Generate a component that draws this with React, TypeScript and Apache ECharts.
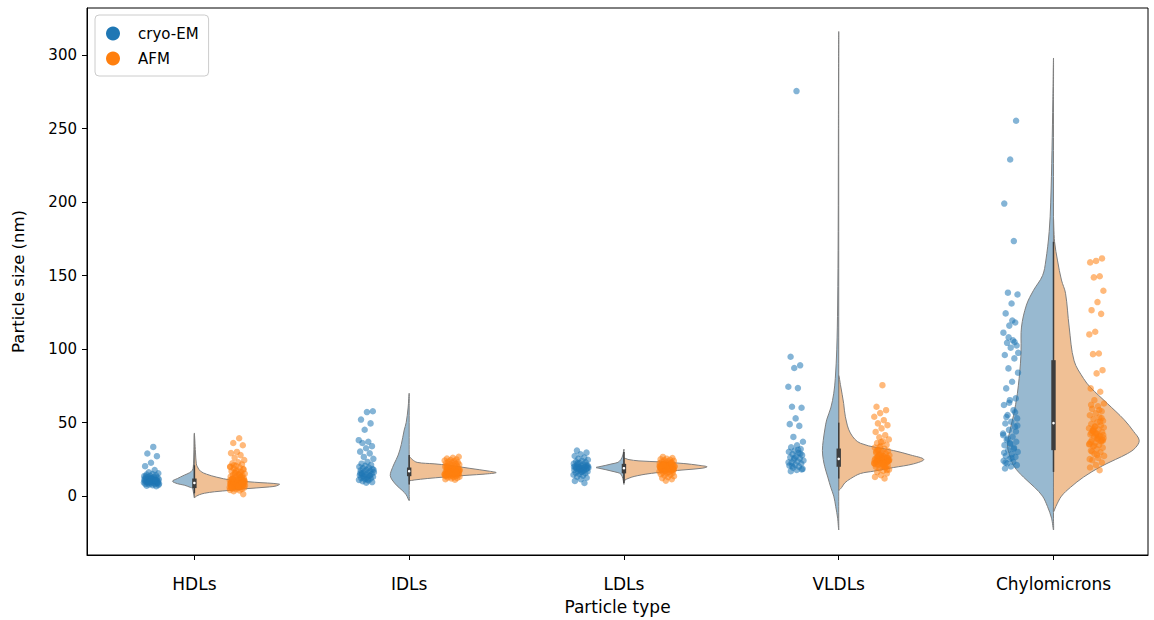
import React, { useEffect, useRef } from "react";
import * as echarts from "echarts";

const CATEGORIES = ["HDLs", "IDLs", "LDLs", "VLDLs", "Chylomicrons"];
const Y_TICKS = [0, 50, 100, 150, 200, 250, 300];
const X_TICKS = [0, 1, 2, 3, 4];

// Strip points (particle size, nm)
const HDL_CRYO = [33.5, 29, 27.2, 22.7, 20.4, 17.7, 16.3, 15.6, 15.1, 14.7, 14.2, 13.9, 13.6, 13.1, 12.9, 12.6, 12.4, 12.1, 11.9, 11.7, 11.5, 11.2, 11.0, 10.9, 10.7, 10.5, 10.4, 10.2, 10.1, 9.9, 9.8, 9.6, 9.5, 9.3, 9.1, 8.9, 8.8, 8.6, 8.4, 8.2, 8.0, 7.7, 7.5, 7.1, 6.8, 12.3, 11.4, 10.8, 10.0, 9.2, 11.8, 13.3, 10.6, 9.7, 8.5];
const HDL_AFM = [39.4, 36.2, 34.6, 30.1, 29.3, 27.9, 26.1, 24.5, 23.1, 22.4, 21.6, 20.7, 20.2, 19.4, 18.8, 18.1, 17.5, 16.9, 16.4, 15.8, 15.3, 14.9, 14.4, 14.0, 13.6, 13.3, 12.9, 12.6, 12.2, 11.9, 11.6, 11.3, 11.1, 10.8, 10.6, 10.3, 10.1, 9.9, 9.7, 9.5, 9.4, 9.2, 9.0, 8.9, 8.7, 8.6, 8.4, 8.3, 8.1, 8.0, 7.9, 7.7, 7.6, 7.5, 7.3, 7.2, 7.0, 6.9, 6.7, 6.5, 6.3, 6.1, 5.8, 5.6, 5.3, 5.0, 4.7, 4.3, 3.9, 3.4, 1.4, 8.5, 9.1, 7.8, 8.8, 10.4, 6.6, 11.7, 9.6, 7.4, 8.2, 12.4, 6.8, 10.9, 9.3, 7.1, 13.1, 8.0, 5.9, 14.6, 9.8, 7.6, 11.0, 6.2, 8.6, 16.1, 10.0, 7.0, 12.0, 9.0, 17.2, 19.8, 15.0, 21.0, 18.4];
const IDL_CRYO = [57.8, 57.2, 52.1, 49.5, 45.2, 38.1, 37.0, 36.2, 34.0, 32.6, 30.3, 29.1, 26.7, 25.4, 23.3, 22.1, 21.3, 20.6, 20.0, 19.4, 18.9, 18.5, 18.0, 17.6, 17.1, 16.7, 16.3, 15.9, 15.5, 15.1, 14.7, 14.3, 14.0, 13.6, 13.2, 12.8, 12.4, 12.0, 11.6, 11.1, 10.7, 10.2, 9.6, 9.1, 15.7, 13.9, 12.6, 17.9, 11.4, 14.9];
const IDL_AFM = [26.8, 26.1, 25.6, 25.0, 24.6, 24.2, 23.8, 23.5, 23.1, 22.8, 22.4, 22.1, 21.8, 21.5, 21.2, 20.9, 20.6, 20.3, 20.0, 19.7, 19.4, 19.1, 18.8, 18.6, 18.3, 18.0, 17.8, 17.5, 17.3, 17.0, 16.8, 16.6, 16.4, 16.2, 16.0, 15.8, 15.6, 15.4, 15.2, 15.0, 14.8, 14.6, 14.4, 14.2, 14.0, 13.8, 13.5, 13.3, 13.0, 12.7, 12.4, 12.0, 11.6, 11.2, 16.1, 16.5, 15.9, 17.1, 15.3, 16.9, 14.9, 17.6, 15.7, 16.3, 18.2, 14.5, 16.7, 15.1, 17.4, 16.0, 19.2, 15.5, 16.4, 13.7, 18.5, 15.8, 17.9, 14.1, 20.4, 16.2];
const LDL_CRYO = [31.0, 29.6, 28.5, 27.3, 26.2, 25.4, 24.7, 24.1, 23.6, 23.0, 22.6, 22.1, 21.7, 21.3, 20.9, 20.6, 20.2, 19.9, 19.6, 19.3, 19.0, 18.7, 18.4, 18.1, 17.8, 17.5, 17.2, 16.8, 16.4, 16.0, 15.6, 15.1, 14.6, 14.0, 13.3, 12.5, 11.6, 10.4, 9.0, 19.8, 20.4, 18.9, 19.4, 21.0, 18.2, 20.0, 17.6, 22.3, 19.1, 16.6];
const LDL_AFM = [26.7, 26.0, 25.5, 25.1, 24.7, 24.4, 24.0, 23.7, 23.4, 23.1, 22.8, 22.5, 22.2, 21.9, 21.6, 21.3, 21.0, 20.8, 20.5, 20.2, 20.0, 19.8, 19.5, 19.3, 19.0, 18.8, 18.5, 18.3, 18.0, 17.7, 17.4, 17.1, 16.8, 16.5, 16.2, 15.8, 15.4, 15.0, 14.6, 14.1, 13.6, 13.0, 12.3, 11.5, 10.6, 20.1, 19.6, 21.2, 18.6, 20.7, 19.1, 22.0, 18.1, 20.4, 19.4, 21.5, 17.6, 20.9, 19.9, 18.9, 21.8, 17.9, 20.3, 19.2, 22.6, 16.9, 20.6, 18.4, 21.1, 19.7];
const VLDL_CRYO = [275.5, 94.8, 89.0, 87.2, 74.4, 73.5, 60.8, 60.1, 52.9, 49.0, 47.8, 40.3, 37.0, 34.6, 33.2, 32.1, 31.0, 30.2, 29.4, 28.6, 27.9, 27.1, 26.4, 25.7, 25.0, 24.3, 23.6, 22.9, 22.2, 21.5, 20.8, 20.1, 19.4, 18.6, 17.8, 17.0, 29.0, 26.0, 23.0, 31.5, 20.5, 18.2];
const VLDL_AFM = [75.5, 60.8, 58.5, 56.5, 54.0, 51.7, 49.5, 48.3, 46.1, 43.7, 41.5, 40.0, 38.6, 37.3, 36.1, 35.0, 34.0, 33.1, 32.3, 31.5, 30.8, 30.1, 29.5, 28.9, 28.3, 27.8, 27.3, 26.8, 26.3, 25.9, 25.5, 25.1, 24.7, 24.3, 23.9, 23.5, 23.1, 22.7, 22.3, 21.9, 21.5, 21.0, 20.5, 20.0, 19.4, 18.8, 18.1, 17.3, 16.4, 15.4, 14.3, 13.1, 12.0, 25.3, 24.1, 26.0, 23.3, 25.7, 24.5, 22.5, 27.0, 24.9, 23.7, 26.5, 21.7, 25.0, 28.0, 24.0, 22.9, 26.2, 23.0, 29.2, 24.4, 20.8, 27.5, 25.8, 22.0, 30.5, 19.8, 33.5, 24.8, 21.3, 31.2, 17.8, 36.8];
const CHYLO_CRYO = [255.3, 229.0, 199.0, 173.5, 138.4, 137.2, 131.0, 124.3, 118.1, 116.0, 111.2, 106.0, 104.3, 102.5, 101.0, 96.0, 93.7, 86.9, 84.0, 77.8, 73.3, 66.5, 65.3, 62.0, 58.5, 55.2, 52.9, 50.6, 49.4, 47.3, 45.1, 42.6, 40.4, 38.2, 37.0, 35.5, 34.7, 33.0, 31.3, 30.1, 28.6, 27.4, 26.7, 25.3, 24.1, 23.3, 22.2, 21.1, 20.2, 18.8, 104.8, 108.0, 97.5, 119.5, 53.8, 44.0, 36.2, 29.5, 32.2, 39.1, 48.0, 26.0, 22.8, 57.0, 63.5, 41.5];
const CHYLO_AFM = [161.7, 160.0, 159.0, 149.6, 148.8, 139.7, 132.0, 126.5, 124.0, 111.8, 110.0, 97.0, 96.6, 85.7, 83.5, 73.3, 71.0, 65.3, 63.0, 61.2, 59.4, 57.8, 56.3, 55.0, 53.7, 52.5, 51.3, 50.2, 49.1, 48.1, 47.1, 46.2, 45.3, 44.4, 43.6, 42.8, 42.0, 41.2, 40.4, 39.6, 38.8, 38.0, 37.2, 36.4, 35.6, 34.8, 33.9, 33.0, 32.0, 31.0, 29.9, 28.7, 27.4, 26.0, 24.5, 22.9, 21.2, 19.5, 17.7, 45.8, 41.6, 39.2, 43.0, 37.6, 47.6, 35.2, 40.8, 44.8, 38.4, 42.4, 36.8, 50.7, 34.3, 46.7, 39.9, 30.4, 53.1, 41.9, 25.2, 58.6, 44.1, 37.9, 28.1, 62.1];

const CRYO_POINTS = [HDL_CRYO, IDL_CRYO, LDL_CRYO, VLDL_CRYO, CHYLO_CRYO];
const AFM_POINTS = [HDL_AFM, IDL_AFM, LDL_AFM, VLDL_AFM, CHYLO_AFM];

// Violin half profiles: [particle size, density width in % of category spacing]
const HDL_CRYO_KDE = [[43, 0], [30, 0.2], [22, 0.4], [20, 0.5], [17.7, 0.9], [16, 2.2], [14.3, 4.7], [12, 7.9], [10.2, 10.2], [8.5, 7.9], [7.5, 4.7], [6, 1.9], [5.4, 0.9], [3, 0.5], [0, 0.1], [-1, 0]];
const HDL_AFM_KDE = [[42, 0], [30, 0.5], [22, 0.9], [20, 1.4], [17, 2.8], [15, 5.6], [13, 10.2], [11, 16.8], [9.5, 27.9], [8.2, 39.6], [7, 38.2], [6.3, 34.9], [5, 23.3], [4, 16.8], [3, 9.3], [2, 4.7], [1, 2.3], [0, 0.9], [-1, 0]];
const IDL_CRYO_KDE = [[70, 0], [60, 0.5], [50, 1.4], [45, 2.3], [35, 3.7], [28, 5.1], [22, 7], [17, 8.4], [14, 8.8], [11, 7.9], [7, 5.6], [4, 3.3], [1, 1.4], [-3, 0]];
const IDL_AFM_KDE = [[27, 0], [25, 1.4], [23, 3.7], [22, 11.6], [21, 18.6], [19, 27.9], [17, 37.3], [16, 40.5], [15, 34.9], [14.3, 27.9], [13, 16.3], [12, 8.4], [11, 2.3], [10.5, 0]];
const LDL_CRYO_KDE = [[32, 0], [28, 0.5], [25, 1.4], [23, 2.8], [22, 5.6], [21, 8.4], [20, 11.6], [19.5, 13], [19, 11.6], [18, 8.4], [17, 5.6], [16, 2.8], [15, 1.4], [12, 0.5], [8, 0]];
const LDL_AFM_KDE = [[26, 0], [25, 1.9], [24, 7], [23.3, 17.2], [22.2, 27.9], [21, 34.9], [20, 38.7], [19, 36.3], [18, 28.9], [17, 21], [16, 15.4], [15, 10.2], [14, 6.5], [13, 3.7], [12, 1.9], [11, 0.5], [10, 0]];
const VLDL_CRYO_KDE = [[316, 0], [250, 0.15], [180, 0.25], [130, 0.5], [100, 0.9], [80, 1.6], [70, 2.3], [60, 3.7], [52, 5.6], [45, 6.5], [38, 7.2], [31, 7.6], [25, 7.2], [20, 6.5], [13, 5.1], [6, 3.7], [0, 2.3], [-7, 1.4], [-15, 0.5], [-23, 0]];
const VLDL_AFM_KDE = [[82, 0], [75, 0.9], [63, 2.3], [54, 3.1], [43, 5.4], [36, 10.1], [31, 25.6], [28, 33.5], [25, 39.6], [22, 34.9], [19.5, 25.6], [17, 16.3], [15.4, 10.1], [12, 5.6], [9, 2.8], [6, 1.4], [4, 0]];
const CHYLO_CRYO_KDE = [[298, 0], [270, 0.3], [235, 0.7], [200, 1.3], [180, 2], [160, 3.6], [150, 5.1], [140, 9.3], [130, 12.6], [115, 14.9], [100, 15.1], [90, 15.4], [70, 16.8], [55, 18.6], [47, 19.9], [35, 21.4], [28, 20.5], [20, 18.2], [13, 14], [6, 8.8], [0, 5.1], [-7, 2.8], [-15, 0.9], [-23, 0]];
const CHYLO_AFM_KDE = [[189, 0], [173, 0.5], [160, 1.9], [147, 3.7], [138, 5.6], [115, 7.3], [92, 9.6], [80, 14], [74, 17.2], [63, 25.1], [52, 32.9], [44, 37.3], [38, 39.9], [33, 38.2], [29, 34.5], [25, 28.9], [20, 21.9], [13, 14], [6, 7.9], [0, 3.7], [-7, 1.1], [-10.7, 0]];

const CRYO_KDE = [HDL_CRYO_KDE, IDL_CRYO_KDE, LDL_CRYO_KDE, VLDL_CRYO_KDE, CHYLO_CRYO_KDE];
const AFM_KDE = [HDL_AFM_KDE, IDL_AFM_KDE, LDL_AFM_KDE, VLDL_AFM_KDE, CHYLO_AFM_KDE];

// Inner box (combined data)
const BOX_Q1 = [5.5, 13.6, 15.5, 20, 31.3];
const BOX_MEDIAN = [9, 17, 19, 25.4, 49.7];
const BOX_Q3 = [12, 19.5, 22, 32.4, 92.5];
const WHISKER_LO = [2, 8, 9, 12, 16.5];
const WHISKER_HI = [21, 28, 30, 50, 173];

const DODGE = 0.2;
const JITTER = 0.036;

function stripData(groups: number[][], side: number) {
  const out: number[][] = [];
  groups.forEach((vals, g) => {
    vals.forEach((v, k) => {
      const j = (((k + 1) * 0.6180339887 + g * 0.31) % 1 - 0.5) * 2 * JITTER;
      out.push([g + side * DODGE + j, v]);
    });
  });
  return out;
}

function violinSeries(profiles: number[][][], side: number, fill: string) {
  return {
    type: "custom",
    name: side < 0 ? "violin-cryo" : "violin-afm",
    coordinateSystem: "cartesian2d",
    z: 2,
    silent: true,
    data: profiles.map((_, i) => [i, 0]),
    renderItem: (params: any, api: any) => {
      const i = params.dataIndex;
      const prof = profiles[i];
      const pts: number[][] = prof.map(([v, w]) => api.coord([i + side * w / 100, v]));
      for (let k = prof.length - 2; k >= 1; k--) {
        pts.push(api.coord([i, prof[k][0]]));
      }
      return {
        type: "polygon",
        shape: { points: pts, smooth: 0.35 },
        style: { fill, stroke: "#7f7f7f", lineWidth: 1 },
      };
    },
  };
}

export default function App() {
  const ref = useRef<HTMLDivElement>(null);
  useEffect(() => {
    document.body.style.margin = "0";
    if (!ref.current) return;
    const chart = echarts.init(ref.current, null, { renderer: "svg" });
    const font = "DejaVu Sans";
    const option: any = {
      animation: false,
      textStyle: { fontFamily: font },
      grid: {
        left: 87, right: 6, top: 8, bottom: 65,
        show: true, borderColor: "#000", borderWidth: 1, backgroundColor: "transparent",
      },
      legend: {
        orient: "vertical",
        left: 95, top: 15,
        padding: [11, 10, 10, 11],
        itemWidth: 14, itemHeight: 14, itemGap: 10,
        borderColor: "#cccccc", borderWidth: 1, borderRadius: 4,
        textStyle: { fontFamily: font, fontSize: 15, color: "#000", padding: [0, 0, 0, 13] },
        data: [
          { name: "cryo-EM", icon: "circle", itemStyle: { color: "#1f77b4", opacity: 1 } },
          { name: "AFM", icon: "circle", itemStyle: { color: "#ff7f0e", opacity: 1 } },
        ],
      },
      xAxis: {
        type: "value", min: -0.5, max: 4.44,
        name: "Particle type", nameLocation: "middle", nameGap: 43,
        nameTextStyle: { fontFamily: font, fontSize: 17, color: "#000" },
        axisLine: { show: true, onZero: false, lineStyle: { color: "#000", width: 1 } },
        axisTick: { show: true, customValues: X_TICKS, length: 5, lineStyle: { color: "#000" } },
        axisLabel: {
          customValues: X_TICKS, margin: 20, fontSize: 17, color: "#000", fontFamily: font,
          formatter: (v: number) => CATEGORIES[Math.round(v)] ?? "",
        },
        splitLine: { show: false },
      },
      yAxis: {
        type: "value", min: -40, max: 332,
        name: "Particle size (nm)", nameLocation: "middle", nameGap: 60,
        nameTextStyle: { fontFamily: font, fontSize: 16.5, color: "#000" },
        axisLine: { show: true, onZero: false, lineStyle: { color: "#000", width: 1 } },
        axisTick: { show: true, customValues: Y_TICKS, length: 5, lineStyle: { color: "#000" } },
        axisLabel: { customValues: Y_TICKS, margin: 10, fontSize: 15, color: "#000", fontFamily: font },
        splitLine: { show: false },
      },
      series: [
        violinSeries(CRYO_KDE, -1, "rgba(50,116,161,0.5)"),
        violinSeries(AFM_KDE, 1, "rgba(225,129,44,0.5)"),
        {
          type: "custom",
          name: "inner-box",
          coordinateSystem: "cartesian2d",
          z: 3,
          silent: true,
          data: CATEGORIES.map((_, i) => [i, BOX_MEDIAN[i]]),
          renderItem: (params: any, api: any) => {
            const i = params.dataIndex;
            const lo = api.coord([i, WHISKER_LO[i]]);
            const hi = api.coord([i, WHISKER_HI[i]]);
            const q1 = api.coord([i, BOX_Q1[i]]);
            const q3 = api.coord([i, BOX_Q3[i]]);
            const md = api.coord([i, BOX_MEDIAN[i]]);
            return {
              type: "group",
              children: [
                { type: "line", shape: { x1: lo[0], y1: lo[1], x2: hi[0], y2: hi[1] }, style: { stroke: "#3d3d3d", lineWidth: 1.5 } },
                { type: "rect", shape: { x: q3[0] - 2.2, y: q3[1], width: 4.4, height: q1[1] - q3[1] }, style: { fill: "#3d3d3d" } },
                { type: "circle", shape: { cx: md[0], cy: md[1], r: 1.3 }, style: { fill: "#ffffff" } },
              ],
            };
          },
        },
        {
          type: "scatter", name: "cryo-EM", z: 4,
          symbolSize: 6.5,
          itemStyle: { color: "#1f77b4", opacity: 0.55 },
          data: stripData(CRYO_POINTS, -1),
        },
        {
          type: "scatter", name: "AFM", z: 4,
          symbolSize: 6.5,
          itemStyle: { color: "#ff7f0e", opacity: 0.55 },
          data: stripData(AFM_POINTS, 1),
        },
      ],
    };
    chart.setOption(option);
    return () => chart.dispose();
  }, []);
  return <div ref={ref} style={{ width: 1154, height: 620 }} />;
}
